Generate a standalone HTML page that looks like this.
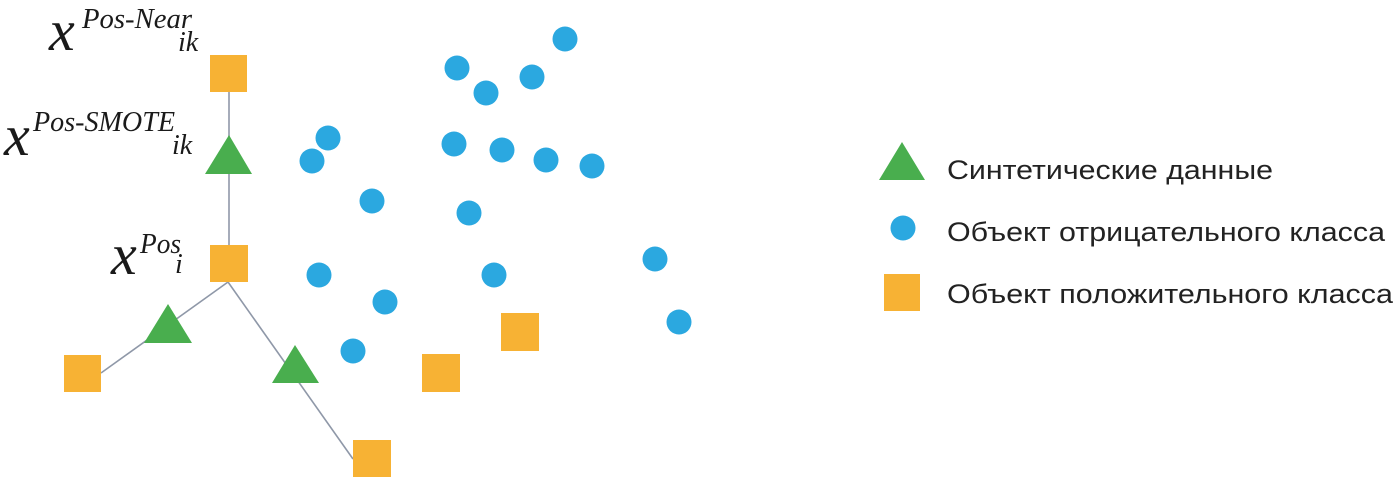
<!DOCTYPE html>
<html><head><meta charset="utf-8"><style>
html,body{margin:0;padding:0;background:#fff;}
svg{display:block}
.x{font-family:"Liberation Serif",serif;font-style:italic;font-size:58px;fill:#1a1a1a}
.s{font-family:"Liberation Serif",serif;font-style:italic;font-size:28px;fill:#1a1a1a}
.l{font-family:"Liberation Sans","DejaVu Sans",sans-serif;font-size:27px;fill:#222}
</style></head><body>
<svg width="1400" height="480" viewBox="0 0 1400 480">
<g stroke="#8f98a8" stroke-width="1.6" fill="none">
<line x1="229" y1="92" x2="229" y2="245"/>
<line x1="228" y1="282" x2="101" y2="373"/>
<line x1="228" y1="282" x2="353" y2="459"/>
</g>
<g fill="#f7b234">
<rect x="210" y="55" width="37" height="37"/>
<rect x="210" y="245" width="38" height="37"/>
<rect x="64" y="355" width="37" height="37"/>
<rect x="353" y="440" width="38" height="37"/>
<rect x="501" y="313" width="38" height="38"/>
<rect x="422" y="354" width="38" height="38"/>
<rect x="884" y="274" width="36" height="37"/>
</g>
<g fill="#49ae4e">
<polygon points="229,135 252,174 205,174"/>
<polygon points="168,304 192,343 144,343"/>
<polygon points="295,345 319,383 272,383"/>
<polygon points="902,142 925,180 879,180"/>
</g>
<g fill="#2ba8e0">
<circle cx="565" cy="39" r="12.5"/><circle cx="457" cy="68" r="12.5"/>
<circle cx="532" cy="77" r="12.5"/><circle cx="486" cy="93" r="12.5"/>
<circle cx="328" cy="138" r="12.5"/><circle cx="312" cy="161" r="12.5"/>
<circle cx="454" cy="144" r="12.5"/><circle cx="502" cy="150" r="12.5"/>
<circle cx="546" cy="160" r="12.5"/><circle cx="592" cy="166" r="12.5"/>
<circle cx="372" cy="201" r="12.5"/><circle cx="469" cy="213" r="12.5"/>
<circle cx="319" cy="275" r="12.5"/><circle cx="494" cy="275" r="12.5"/>
<circle cx="385" cy="302" r="12.5"/><circle cx="655" cy="259" r="12.5"/>
<circle cx="679" cy="322" r="12.5"/><circle cx="353" cy="351" r="12.5"/>
<circle cx="903" cy="228" r="12.5"/>
</g>
<text class="x" x="49" y="50">x</text><text class="s" x="82" y="28" textLength="110" lengthAdjust="spacingAndGlyphs">Pos-Near</text><text class="s" x="178" y="51">ik</text>
<text class="x" x="4" y="155">x</text><text class="s" x="33" y="131" textLength="142" lengthAdjust="spacingAndGlyphs">Pos-SMOTE</text><text class="s" x="172" y="154">ik</text>
<text class="x" x="111" y="274">x</text><text class="s" x="140" y="253" textLength="41" lengthAdjust="spacingAndGlyphs">Pos</text><text class="s" x="175" y="273">i</text>
<text class="l" x="947" y="179" textLength="326" lengthAdjust="spacingAndGlyphs">Синтетические данные</text>
<text class="l" x="947" y="241" textLength="438" lengthAdjust="spacingAndGlyphs">Объект отрицательного класса</text>
<text class="l" x="947" y="303" textLength="446" lengthAdjust="spacingAndGlyphs">Объект положительного класса</text>
</svg>
</body></html>
